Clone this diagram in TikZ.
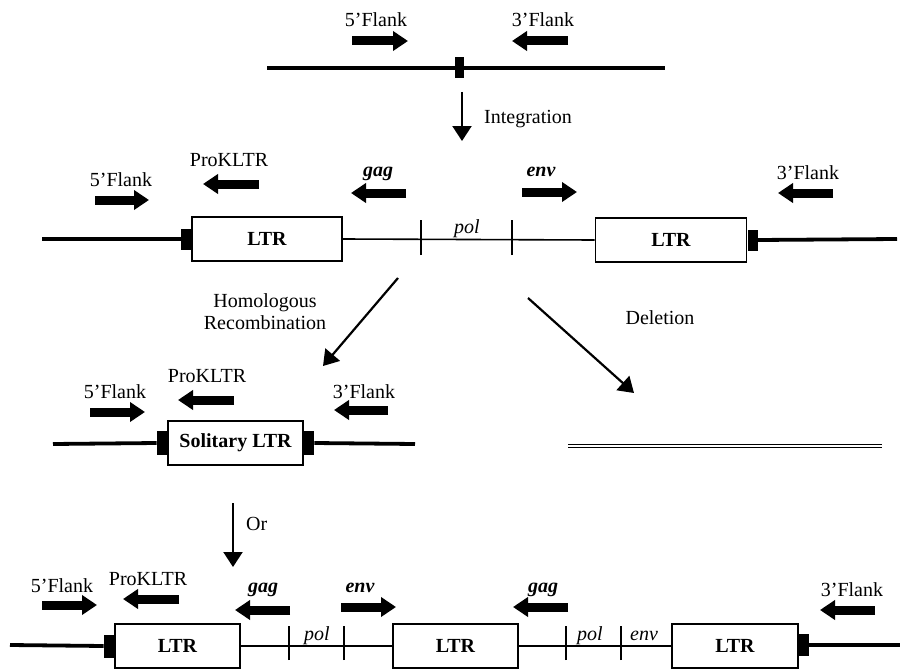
\documentclass[tikz,border=0pt]{standalone}
\usepackage{fontspec}
\setmainfont{Liberation Serif}
\usetikzlibrary{arrows.meta}
\begin{document}
\begin{tikzpicture}[x=1pt,y=-1pt,
  every node/.style={font=\fontsize{20}{23}\selectfont, inner sep=0pt},
  dna/.style={line width=3.8pt},
  inner/.style={line width=1.6pt},
  tick/.style={line width=1.6pt},
  ltrbox/.style={draw, line width=1.8pt, fill=white, minimum height=44pt, font=\fontsize{20}{23}\selectfont\bfseries},
  endblock/.style={fill=black, minimum width=10pt, minimum height=21pt},
  primer/.style={line width=9pt, -{Triangle[length=15pt,width=19pt]}},
  flow/.style={line width=2.2pt, -{Triangle[length=15pt,width=19pt]}},
  lab/.style={anchor=base},
  gene/.style={anchor=base, font=\fontsize{20}{23}\selectfont\bfseries\itshape},
  reg/.style={anchor=base, font=\fontsize{20}{23}\selectfont\itshape},
  deleted/.style={double, line width=1.3pt, double distance=1.2pt}
]
\useasboundingbox (0,0) rectangle (900,669);

% ---------- Row 1 ----------
\coordinate (r1l) at (267,68);
\coordinate (r1r) at (665,68);
\draw[dna] (r1l) -- (r1r);
\node[endblock, minimum width=9pt] (r1site) at (459,68) {};
\coordinate (p1a) at (352,41); \coordinate (p1b) at (408,41);
\draw[primer] (p1a) -- (p1b);
\coordinate (p2a) at (568,41); \coordinate (p2b) at (512,41);
\draw[primer] (p2a) -- (p2b);
\node[lab] (t1a) at (376,27) {5’Flank};
\node[lab] (t1b) at (543,27) {3’Flank};

% Integration
\coordinate (i1) at (462,92); \coordinate (i2) at (462,141);
\draw[flow] (i1) -- (i2);
\node[lab, anchor=base west] (tint) at (484,124) {Integration};

% ---------- Row 2 ----------
\node[ltrbox, minimum width=150pt] (L1) at (267,239) {LTR};
\node[ltrbox, minimum width=151pt] (L2) at (671,240) {LTR};
\node[endblock, anchor=east] (b1) at (L1.west) {};
\node[endblock, anchor=west] (b2) at (L2.east) {};
\coordinate (r2l) at (42,239);
\coordinate (r2r) at (897,239);
\draw[dna] (r2l) -- (b1.west);
\draw[dna] (b2.east) -- (r2r);
\draw[inner] (L1.east) -- (L2.west);
\coordinate (k1) at (421,239); \coordinate (k2) at (512,239);
\draw[tick] ([yshift=-16pt]k1) -- ([yshift=19pt]k1);
\draw[tick] ([yshift=-16pt]k2) -- ([yshift=19pt]k2);
\node[reg] (tpol1) at (467,233) {pol};

\draw[primer] (95,200) coordinate (q1a) -- (149,200) coordinate (q1b);
\node[lab] (t2a) at (121,186) {5’Flank};
\draw[primer] (259,184) coordinate (q2a) -- (203,184) coordinate (q2b);
\node[lab] (t2b) at (229,166) {ProKLTR};
\draw[primer] (406,193) coordinate (q3a) -- (351,193) coordinate (q3b);
\node[gene] (t2c) at (378,176) {gag};
\draw[primer] (522,192) coordinate (q4a) -- (577,192) coordinate (q4b);
\node[gene] (t2d) at (541,176) {env};
\draw[primer] (833,193) coordinate (q5a) -- (778,193) coordinate (q5b);
\node[lab] (t2e) at (808,179) {3’Flank};

% Homologous recombination / deletion arrows
\coordinate (h1) at (398,278); \coordinate (h2) at (323,366);
\draw[flow] (h1) -- (h2);
\node[align=center] (thom) at (265,312) {Homologous\\[-1pt]Recombination};
\coordinate (d1) at (528,298); \coordinate (d2) at (634,393);
\draw[flow] (d1) -- (d2);
\node[lab] (tdel) at (660,324) {Deletion};

% ---------- Row 3 ----------
\node[ltrbox, minimum width=135pt] (S) at (235.5,443) {Solitary LTR};
\node[endblock, minimum height=24pt, anchor=east] (sb1) at (S.west) {};
\node[endblock, minimum height=24pt, anchor=west] (sb2) at (S.east) {};
\coordinate (r3l) at (53,444);
\coordinate (r3r) at (415,444);
\draw[dna] (r3l) -- (sb1.west);
\draw[dna] (sb2.east) -- (r3r);
\draw[primer] (90,412) coordinate (s1a) -- (145,412) coordinate (s1b);
\node[lab] (t3a) at (115,398) {5’Flank};
\draw[primer] (234,400) coordinate (s2a) -- (178,400) coordinate (s2b);
\node[lab] (t3b) at (207,382) {ProKLTR};
\draw[primer] (388,410) coordinate (s3a) -- (334,410) coordinate (s3b);
\node[lab] (t3c) at (364,398) {3’Flank};

% deletion product
\coordinate (e1) at (568,446); \coordinate (e2) at (882,446);
\draw[deleted] (e1) -- (e2);

% Or
\coordinate (o1) at (233,503); \coordinate (o2) at (233,567);
\draw[flow] (o1) -- (o2);
\node[lab, anchor=base west] (tor) at (246,530) {Or};

% ---------- Row 4 ----------
\node[ltrbox, minimum width=125pt] (M1) at (177.5,646) {LTR};
\node[ltrbox, minimum width=125pt] (M2) at (455.5,646) {LTR};
\node[ltrbox, minimum width=126pt] (M3) at (735,646) {LTR};
\node[endblock, minimum height=23pt, anchor=east] (mb1) at (M1.west) {};
\node[endblock, minimum height=22pt, anchor=west] (mb2) at ([yshift=1pt]M3.east) {};
\coordinate (r4l) at (10,645);
\coordinate (r4r) at (900,645);
\draw[dna] (r4l) -- (mb1.west);
\draw[dna] (mb2.east) -- (r4r);
\draw[inner] (M1.east) -- (M2.west);
\draw[inner] (M2.east) -- (M3.west);
\foreach \kx/\kn in {289/ka,344/kb,566/kc,621/kd}{
  \coordinate (\kn) at (\kx,645);
  \draw[tick] ([yshift=-15pt]\kn) -- ([yshift=19pt]\kn);
}
\node[reg] (tpol2) at (317,640) {pol};
\node[reg] (tpol3) at (590,640) {pol};
\node[reg] (tenv3) at (644,640) {env};

\draw[primer] (42,605) coordinate (u1a) -- (97,605) coordinate (u1b);
\node[lab] (t4a) at (62,592) {5’Flank};
\draw[primer] (179,599) coordinate (u2a) -- (123,599) coordinate (u2b);
\node[lab] (t4b) at (148,585) {ProKLTR};
\draw[primer] (290,610) coordinate (u3a) -- (235,610) coordinate (u3b);
\node[gene] (t4c) at (263,592) {gag};
\draw[primer] (341,607) coordinate (u4a) -- (396,607) coordinate (u4b);
\node[gene] (t4d) at (360,592) {env};
\draw[primer] (568,607) coordinate (u5a) -- (513,607) coordinate (u5b);
\node[gene] (t4e) at (543,592) {gag};
\draw[primer] (875,610) coordinate (u6a) -- (820,610) coordinate (u6b);
\node[lab] (t4f) at (852,596) {3’Flank};
\end{tikzpicture}
\end{document}
